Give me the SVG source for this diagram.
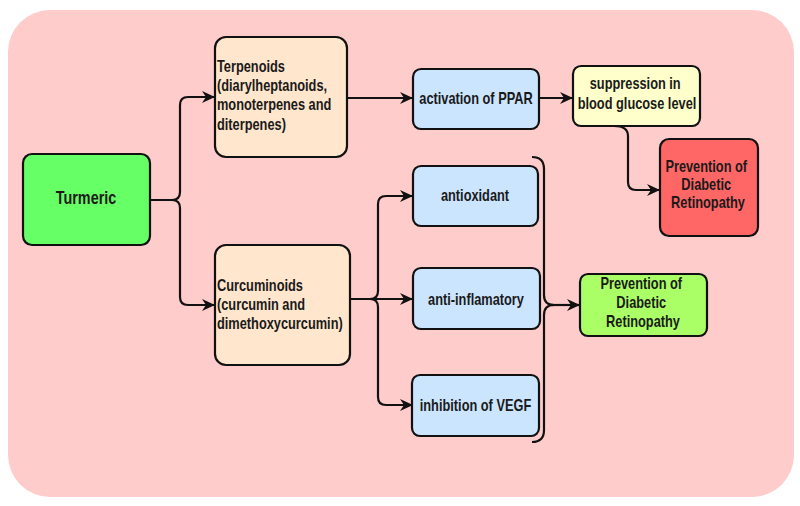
<svg xmlns="http://www.w3.org/2000/svg" width="800" height="506" viewBox="0 0 800 506">
<style>
.box{stroke:#111;stroke-width:2.2}
.t{font-family:"Liberation Sans",Arial,Helvetica,sans-serif;font-weight:bold;font-size:16px;fill:#1a1a1a}
.big{font-size:18px}
.c{text-anchor:middle}
.conn{fill:none;stroke:#111;stroke-width:2.2}
</style>
<defs>
<marker id="arr" markerUnits="userSpaceOnUse" markerWidth="14" markerHeight="14" viewBox="0 0 14 14" refX="12" refY="7" orient="auto">
<path d="M0,1 L13,7 L0,13 L4,7 Z" fill="#111"/>
</marker>
</defs>
<rect x="8" y="10" width="786" height="487" rx="42" fill="#ffcccc"/>

<g id="connectors">
<path class="conn" d="M150,200 L172,200 Q180,200 180,192 L180,105 Q180,97 188,97 L214,97" marker-end="url(#arr)"/>
<path class="conn" d="M172,200 Q180,200 180,208 L180,297 Q180,305 188,305 L214,305" marker-end="url(#arr)"/>
<path class="conn" d="M347,98 L412,98" marker-end="url(#arr)"/>
<path class="conn" d="M539,98 L572,98" marker-end="url(#arr)"/>
<path class="conn" d="M614,126 Q628,126 628,136 L628,182 Q628,190 636,190 L659,190" marker-end="url(#arr)"/>
<path class="conn" d="M350,299 L370,299 Q378,299 378,291 L378,204 Q378,196 386,196 L412,196" marker-end="url(#arr)"/>
<path class="conn" d="M370,299 L412,299" marker-end="url(#arr)"/>
<path class="conn" d="M370,299 Q378,299 378,307 L378,397 Q378,405 386,405 L412,405" marker-end="url(#arr)"/>
<path class="conn" d="M532,157 Q544,157 544,169 L544,295 Q544,305 554,305 Q544,305 544,315 L544,430 Q544,442 532,442"/>
<path class="conn" d="M552,305 L579,305" marker-end="url(#arr)"/>
</g>

<g id="turmeric">
<rect class="box" x="23" y="154" width="127" height="91" rx="9" fill="#66ff66"/>
<text class="t big c" transform="translate(86,0) scale(0.8,1)" x="0" y="204">Turmeric</text>
</g>

<g id="terpenoids">
<rect class="box" x="215" y="37" width="132" height="120" rx="11" fill="#ffe6cc"/>
<text class="t" transform="translate(217,0) scale(0.8,1)">
<tspan x="0" y="72">Terpenoids</tspan>
<tspan x="0" y="91">(diarylheptanoids,</tspan>
<tspan x="0" y="110">monoterpenes and</tspan>
<tspan x="0" y="130">diterpenes)</tspan>
</text>
</g>

<g id="curcuminoids">
<rect class="box" x="215" y="245" width="135" height="120" rx="11" fill="#ffe6cc"/>
<text class="t" transform="translate(217,0) scale(0.8,1)">
<tspan x="0" y="291">Curcuminoids</tspan>
<tspan x="0" y="310">(curcumin and</tspan>
<tspan x="0" y="329">dimethoxycurcumin)</tspan>
</text>
</g>

<g id="ppar">
<rect class="box" x="413" y="69" width="126" height="60" rx="8" fill="#cce5ff"/>
<text class="t c" transform="translate(476,0) scale(0.8,1)" x="0" y="104">activation of PPAR</text>
</g>

<g id="suppression">
<rect class="box" x="573" y="66" width="127" height="60" rx="8" fill="#ffffcc"/>
<text class="t c" transform="translate(637,0) scale(0.8,1)">
<tspan x="0" y="89">suppression in</tspan>
<tspan x="0" y="109">blood glucose level</tspan>
</text>
</g>

<g id="prevention-red">
<rect class="box" x="660" y="139" width="98" height="97" rx="9" fill="#ff6666"/>
<text class="t c" transform="translate(708,0) scale(0.8,1)">
<tspan x="0" y="172">Prevention of</tspan>
<tspan x="0" y="190">Diabetic</tspan>
<tspan x="0" y="208">Retinopathy</tspan>
</text>
</g>

<g id="antioxidant">
<rect class="box" x="413" y="166" width="125" height="60" rx="8" fill="#cce5ff"/>
<text class="t c" transform="translate(475,0) scale(0.8,1)" x="0" y="201">antioxidant</text>
</g>

<g id="antiinflamatory">
<rect class="box" x="413" y="268" width="127" height="61" rx="8" fill="#cce5ff"/>
<text class="t c" transform="translate(476,0) scale(0.8,1)" x="0" y="305">anti-inflamatory</text>
</g>

<g id="vegf">
<rect class="box" x="412" y="375" width="127" height="61" rx="8" fill="#cce5ff"/>
<text class="t c" transform="translate(475.5,0) scale(0.8,1)" x="0" y="411">inhibition of VEGF</text>
</g>

<g id="prevention-green">
<rect class="box" x="580" y="274" width="127" height="62" rx="8" fill="#aaff66"/>
<text class="t c" transform="translate(643,0) scale(0.8,1)">
<tspan x="0" y="289">Prevention of</tspan>
<tspan x="0" y="308">Diabetic</tspan>
<tspan x="0" y="327">Retinopathy</tspan>
</text>
</g>
</svg>
